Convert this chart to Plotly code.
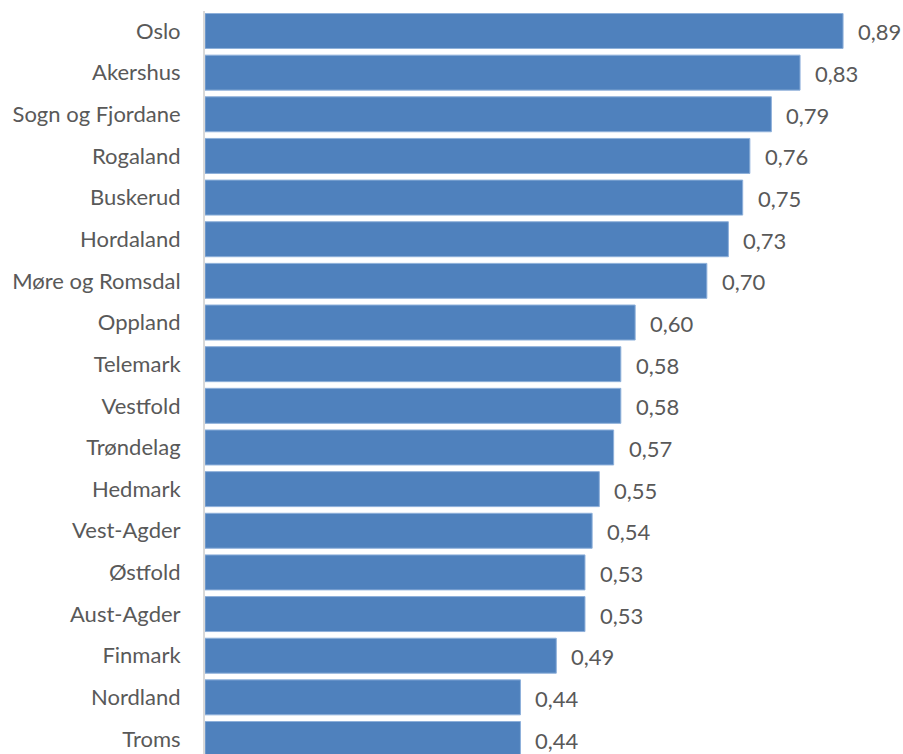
import plotly.graph_objects as go

# Fylker og verdier
fylker = ["Oslo", "Akershus", "Sogn og Fjordane", "Rogaland", "Buskerud", "Hordaland",
          "Møre og Romsdal", "Oppland", "Telemark", "Vestfold", "Trøndelag", "Hedmark",
          "Vest-Agder", "Østfold", "Aust-Agder", "Finmark", "Nordland", "Troms"]
verdier = [0.89, 0.83, 0.79, 0.76, 0.75, 0.73, 0.70, 0.60, 0.58, 0.58, 0.57, 0.55,
           0.54, 0.53, 0.53, 0.49, 0.44, 0.44]

posisjoner = list(range(len(fylker)))

BAR = "#4F81BD"
TXT = "#595959"
FONT = "Lato"
SIZE = 22

fig = go.Figure(go.Bar(
    x=verdier,
    y=posisjoner,
    orientation="h",
    marker=dict(color=BAR, line=dict(color="#8EB0DA", width=1)),
    hoverinfo="x+y",
))

for p, v in zip(posisjoner, verdier):
    fig.add_annotation(
        x=v, y=p, xref="x", yref="y",
        text=f"{v:.2f}".replace(".", ","),
        showarrow=False, xanchor="left", yanchor="middle",
        xshift=13, yshift=-1,
        font=dict(family=FONT, size=SIZE, color=TXT),
    )

fig.update_layout(
    width=903, height=754,
    margin=dict(l=205, r=0, t=11, b=0),
    paper_bgcolor="white", plot_bgcolor="white",
    bargap=0.16,
    showlegend=False,
    separators=", ",
    font=dict(family=FONT, size=SIZE, color=TXT),
)
fig.update_xaxes(range=[0, 0.9736], visible=False, showgrid=False, zeroline=False)
fig.update_yaxes(
    range=[17.36, -0.48],
    tickmode="array", tickvals=posisjoner, ticktext=fylker,
    showgrid=False, zeroline=False,
    showline=True, linecolor="#D9D9D9", linewidth=2,
    ticks="", ticklabelstandoff=18,
    tickfont=dict(family=FONT, size=SIZE, color=TXT),
)

fig.write_html("out.html")
